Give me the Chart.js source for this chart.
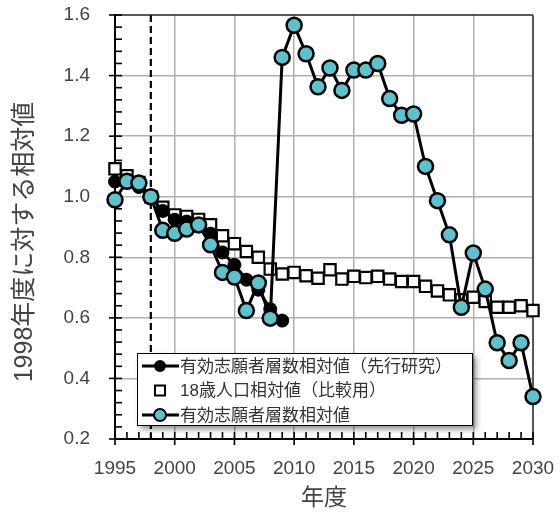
<!DOCTYPE html>
<html>
<head>
<meta charset="utf-8">
<script src="https://cdn.jsdelivr.net/npm/chart.js@4/dist/chart.umd.min.js"></script>
<style>
  html, body { margin: 0; padding: 0; background: #fff; }
  canvas { display: block; }
</style>
</head>
<body>
<canvas id="chart" width="560" height="515"></canvas>
<script>
// 年度（カテゴリ）
const years = [1995, 1996, 1997, 1998, 1999, 2000, 2001, 2002, 2003, 2004,
               2005, 2006, 2007, 2008, 2009, 2010, 2011, 2012, 2013, 2014,
               2015, 2016, 2017, 2018, 2019, 2020, 2021, 2022, 2023, 2024,
               2025, 2026, 2027, 2028, 2029, 2030];

// 有効志願者層数相対値（先行研究）: 1995〜2009年度
const priorStudy = [1.05, 1.055, 1.032, 1.0, 0.953, 0.924, 0.918, 0.905, 0.878, 0.816,
                    0.775, 0.726, 0.693, 0.629, 0.591];

// 18歳人口相対値（比較用）
const population18 = [1.092, 1.069, 1.047, 1.0, 0.965, 0.94, 0.935, 0.925, 0.907, 0.871,
                      0.845, 0.819, 0.8, 0.761, 0.745, 0.75, 0.739, 0.731, 0.759, 0.728,
                      0.737, 0.733, 0.737, 0.728, 0.72, 0.72, 0.704, 0.689, 0.676, 0.66,
                      0.668, 0.654, 0.635, 0.635, 0.64, 0.624];

// 有効志願者層数相対値
const applicants = [0.99, 1.051, 1.045, 1.0, 0.889, 0.879, 0.893, 0.907, 0.841, 0.75,
                    0.735, 0.624, 0.715, 0.599, 1.46, 1.566, 1.472, 1.363, 1.425, 1.351,
                    1.418, 1.418, 1.44, 1.324, 1.269, 1.273, 1.1, 0.987, 0.874, 0.635,
                    0.814, 0.695, 0.518, 0.459, 0.518, 0.34];

const seriesLabels = ['有効志願者層数相対値（先行研究）', '18歳人口相対値（比較用）', '有効志願者層数相対値'];
const xTitle = '年度';
const yTitle = '1998年度に対する相対値';
const baseYear = 1998;

const CYAN = '#5cc3cd';
const LATIN = '"Liberation Sans", Arial, "Noto Sans CJK JP", sans-serif';
const GRID = '#b0b0b0';

// 目盛り線・基準年の破線・枠線
const axisMarks = {
  id: 'axisMarks',
  beforeDatasetsDraw(chart) {
    const { ctx, chartArea: a, scales: { x, y } } = chart;
    ctx.save();
    // 基準年の破線
    const bx = x.getPixelForValue(years.indexOf(baseYear));
    ctx.strokeStyle = '#000';
    ctx.lineWidth = 2.2;
    ctx.setLineDash([7, 4]);
    ctx.beginPath();
    ctx.moveTo(bx, a.top);
    ctx.lineTo(bx, a.bottom);
    ctx.stroke();
    ctx.setLineDash([]);

    // 上・右の枠
    ctx.lineWidth = 1.5;
    ctx.strokeStyle = '#222';
    ctx.beginPath();
    ctx.moveTo(a.left, a.top);
    ctx.lineTo(a.right, a.top);
    ctx.stroke();
    ctx.strokeStyle = '#555';
    ctx.lineWidth = 2;
    ctx.beginPath();
    ctx.moveTo(a.right, a.top);
    ctx.lineTo(a.right, a.bottom);
    ctx.stroke();

    // 目盛り線
    ctx.strokeStyle = '#000';
    ctx.lineWidth = 1.6;
    years.forEach((yr, i) => {
      const px = x.getPixelForValue(i);
      const major = yr % 5 === 0;
      ctx.beginPath();
      ctx.moveTo(px, a.bottom + (major ? 6 : 0));
      ctx.lineTo(px, a.bottom - 7);
      ctx.stroke();
    });
    for (let k = 0; k <= 35; k++) {
      const py = y.getPixelForValue(0.2 + k * 0.04);
      const major = k % 5 === 0;
      ctx.beginPath();
      ctx.moveTo(a.left - (major ? 6 : 0), py);
      ctx.lineTo(a.left + 7, py);
      ctx.stroke();
    }
    ctx.restore();
  },
  // 縦軸タイトル
  afterDraw(chart) {
    const { ctx } = chart;
    ctx.save();
    ctx.translate(25, 242);
    ctx.rotate(-Math.PI / 2);
    ctx.fillStyle = '#444';
    ctx.font = '25px ' + LATIN;
    ctx.textAlign = 'center';
    ctx.textBaseline = 'middle';
    ctx.fillText(yTitle, 0, 0);
    ctx.restore();
  }
};

// 凡例（影付きの枠）
const boxLegend = {
  id: 'boxLegend',
  afterDraw(chart) {
    const { ctx, chartArea: a } = chart;
    const bx = a.left + 22, by = a.bottom - 86, bw = 335, bh = 72;
    ctx.save();
    ctx.shadowColor = 'rgba(0,0,0,0.45)';
    ctx.shadowBlur = 6;
    ctx.shadowOffsetX = 4;
    ctx.shadowOffsetY = 4;
    ctx.fillStyle = '#fff';
    ctx.fillRect(bx, by, bw, bh);
    ctx.shadowColor = 'rgba(0,0,0,0)';
    ctx.strokeStyle = '#000';
    ctx.lineWidth = 1;
    ctx.strokeRect(bx + 0.5, by + 0.5, bw, bh);

    chart.data.datasets.forEach((ds, i) => {
      const cy = by + 13 + i * 24.5;
      const mx = bx + 23;
      if (ds.showLine !== false) {
        ctx.strokeStyle = '#000';
        ctx.lineWidth = 3;
        ctx.beginPath();
        ctx.moveTo(bx + 5, cy);
        ctx.lineTo(bx + 42, cy);
        ctx.stroke();
      }
      ctx.lineWidth = 2;
      ctx.strokeStyle = '#000';
      ctx.fillStyle = ds.pointBackgroundColor;
      if (ds.pointStyle === 'rect') {
        ctx.fillRect(mx - 5, cy - 5, 10, 10);
        ctx.strokeRect(mx - 5, cy - 5, 10, 10);
      } else {
        const r = ds.pointBackgroundColor === '#000' ? 5 : 6;
        ctx.beginPath();
        ctx.arc(mx, cy, r, 0, Math.PI * 2);
        ctx.fill();
        ctx.stroke();
      }
      ctx.fillStyle = '#333';
      ctx.font = '17px ' + LATIN;
      ctx.textBaseline = 'middle';
      ctx.textAlign = 'left';
      ctx.fillText(ds.label, bx + 43, cy + 1);
    });
    ctx.restore();
  }
};

const noOverhang = s => {
  s.paddingLeft = 0; s.paddingRight = 0; s.paddingTop = 0; s.paddingBottom = 0;
};

new Chart(document.getElementById('chart'), {
  type: 'line',
  data: {
    labels: years,
    datasets: [
      {
        label: seriesLabels[0],
        data: priorStudy,
        order: 1,
        borderColor: '#000',
        borderWidth: 3,
        pointRadius: 6.5,
        pointBorderWidth: 1,
        pointBackgroundColor: '#000',
        pointBorderColor: '#000',
        clip: false
      },
      {
        label: seriesLabels[1],
        data: population18,
        order: 2,
        showLine: false,
        pointStyle: 'rect',
        pointRadius: 8,
        pointBorderWidth: 2.2,
        pointBackgroundColor: '#fff',
        pointBorderColor: '#000',
        borderColor: '#000',
        clip: false
      },
      {
        label: seriesLabels[2],
        data: applicants,
        order: 0,
        borderColor: '#000',
        borderWidth: 3,
        pointRadius: 7.5,
        pointBorderWidth: 2.5,
        pointBackgroundColor: CYAN,
        pointBorderColor: '#000',
        clip: false
      }
    ]
  },
  options: {
    responsive: false,
    animation: false,
    devicePixelRatio: 1,
    layout: { padding: { left: 0, top: 15, right: 27, bottom: 0 } },
    plugins: { legend: { display: false }, tooltip: { enabled: false } },
    scales: {
      x: {
        type: 'category',
        offset: false,
        grid: {
          offset: false,
          drawTicks: false,
          lineWidth: 1.5,
          color: c => {
            const yr = years[c.index];
            return (yr % 5 === 0 && yr !== years[0] && yr !== years[years.length - 1]) ? GRID : 'rgba(0,0,0,0)';
          }
        },
        border: { display: true, color: '#000', width: 2 },
        ticks: {
          autoSkip: false,
          maxRotation: 0,
          padding: 18,
          color: '#444',
          font: { size: 19, family: LATIN },
          callback: (v, i) => (years[i] % 5 === 0 ? String(years[i]) : '')
        },
        title: {
          display: true,
          text: xTitle,
          color: '#444',
          font: { size: 23, family: LATIN },
          padding: { top: 0, bottom: 3 }
        },
        afterFit: s => { s.height = 76; noOverhang(s); }
      },
      y: {
        min: 0.2,
        max: 1.6,
        grid: {
          drawTicks: false,
          lineWidth: 1.5,
          color: c => (c.tick.value > 0.21 && c.tick.value < 1.59) ? GRID : 'rgba(0,0,0,0)'
        },
        border: { display: true, color: '#000', width: 2 },
        ticks: {
          stepSize: 0.2,
          padding: 25,
          color: '#444',
          font: { size: 19, family: LATIN },
          callback: v => Number(v).toFixed(1)
        },
        afterFit: s => { s.width = 115; noOverhang(s); }
      }
    }
  },
  plugins: [axisMarks, boxLegend]
});
</script>
</body>
</html>
